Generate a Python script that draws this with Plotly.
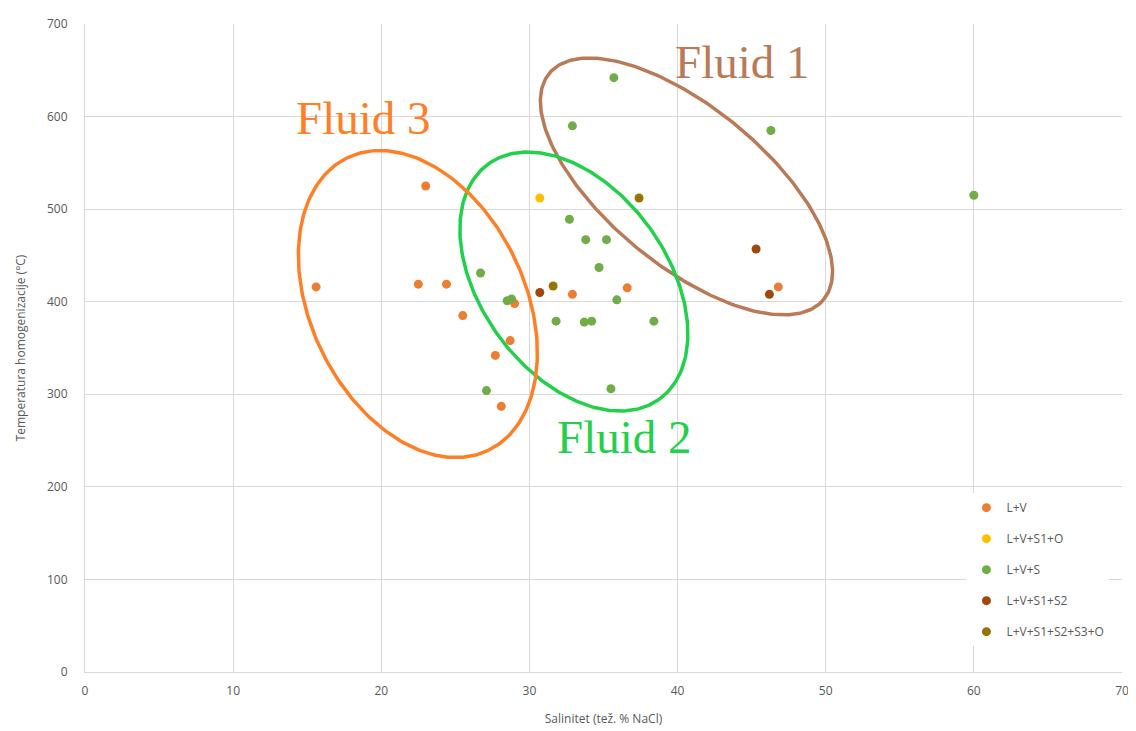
import numpy as np
import plotly.graph_objects as go

# ---- data ----
lv_x = [15.6, 23.0, 22.5, 24.4, 25.5, 27.7, 28.7, 29.0, 28.1, 32.9, 36.6, 46.8]
lv_y = [416, 525, 419, 419, 385, 342, 358, 398, 287, 408, 415, 416]

lvs1o_x = [30.7]
lvs1o_y = [512]

lvs_x = [26.7, 28.5, 28.8, 27.1, 32.7, 33.8, 35.2, 34.7, 35.9, 31.8, 33.7, 34.2, 38.4, 35.5, 35.7, 32.9, 46.3, 60.0]
lvs_y = [431, 401, 403, 304, 489, 467, 467, 437, 402, 379, 378, 379, 379, 306, 642, 590, 585, 515]

lvs1s2_x = [30.7, 45.3, 46.2]
lvs1s2_y = [410, 457, 408]

lvs1s2s3o_x = [31.6, 37.4]
lvs1s2s3o_y = [417, 512]

series_names = ["L+V", "L+V+S1+O", "L+V+S", "L+V+S1+S2", "L+V+S1+S2+S3+O"]
series_x = [lv_x, lvs1o_x, lvs_x, lvs1s2_x, lvs1s2s3o_x]
series_y = [lv_y, lvs1o_y, lvs_y, lvs1s2_y, lvs1s2s3o_y]
series_colors = ["#ED7D31", "#FFC000", "#70AD47", "#9E480E", "#997300"]

# fluid group ellipses: label, centre (data), semi-axes (px), angle (deg)
fluid_labels = ["Fluid 1", "Fluid 2", "Fluid 3"]
fluid_centres = [(40.6, 524.5), (33.0, 421.8), (22.47, 397.5)]
fluid_axes_px = [(177.8, 78.9), (145.4, 92.9), (162.4, 107.1)]
fluid_angles = [-39.5, -53.8, -64.25]
fluid_label_pos = [(44.4, 659), (36.4, 254), (18.8, 598)]
fluid_colors = ["#B97A57", "#22D04A", "#FF7F27"]

x_range = [0, 70]
y_range = [0, 700]

# page body adds an 8px offset, so the figure is sized to fit the window
W, H = 1128, 723
margin = dict(l=77, r=14, t=16, b=59)
sx = (W - margin["l"] - margin["r"]) / (x_range[1] - x_range[0])
sy = (H - margin["t"] - margin["b"]) / (y_range[1] - y_range[0])

fig = go.Figure()

for name, xs, ys, col in zip(series_names, series_x, series_y, series_colors):
    fig.add_trace(go.Scatter(
        x=xs, y=ys, mode="markers", name=name, legendgroup=name,
        marker=dict(color=col, size=9, line=dict(width=0)),
    ))

t = np.linspace(0, 2 * np.pi, 300)
for (cx, cy), (a, b), ang, col in zip(fluid_centres, fluid_axes_px, fluid_angles, fluid_colors):
    th = np.deg2rad(ang)
    u = a * np.cos(t) * np.cos(th) - b * np.sin(t) * np.sin(th)
    v = a * np.cos(t) * np.sin(th) + b * np.sin(t) * np.cos(th)
    fig.add_trace(go.Scatter(
        x=cx + u / sx, y=cy + v / sy, mode="lines",
        line=dict(color=col, width=3.5), showlegend=False, hoverinfo="skip",
    ))

for lab, (lx, ly), col in zip(fluid_labels, fluid_label_pos, fluid_colors):
    fig.add_annotation(x=lx, y=ly, text=lab, showarrow=False,
                       font=dict(family="Liberation Serif, Times New Roman, serif", size=47, color=col),
                       xanchor="center", yanchor="middle")

axis_font = dict(family="Open Sans, Liberation Sans, sans-serif", size=12, color="#595959")

fig.update_layout(
    width=W, height=H, margin=margin,
    paper_bgcolor="white", plot_bgcolor="white",
    font=axis_font,
    showlegend=True,
    legend=dict(x=0.85, y=0.276, xanchor="left", yanchor="top",
                bgcolor="white", font=dict(size=12, color="#595959",
                                           family="Open Sans, Liberation Sans, sans-serif"),
                tracegroupgap=12, itemwidth=30),
    xaxis=dict(range=x_range, dtick=10, showgrid=True, gridcolor="#D9D9D9", gridwidth=1,
               zeroline=False, showline=True, linecolor="#D9D9D9", ticks="",
               automargin=False, ticklabelstandoff=8,
               tickfont=axis_font, title=dict(text="Salinitet (tež. % NaCl)", font=axis_font, standoff=16)),
    yaxis=dict(range=y_range, dtick=100, showgrid=True, gridcolor="#D9D9D9", gridwidth=1,
               zeroline=False, showline=True, linecolor="#D9D9D9", ticks="",
               automargin=False, ticklabelstandoff=14,
               tickfont=axis_font, title=dict(text="Temperatura homogenizacije (°C)", font=axis_font, standoff=18)),
)

fig.write_html("out.html")
